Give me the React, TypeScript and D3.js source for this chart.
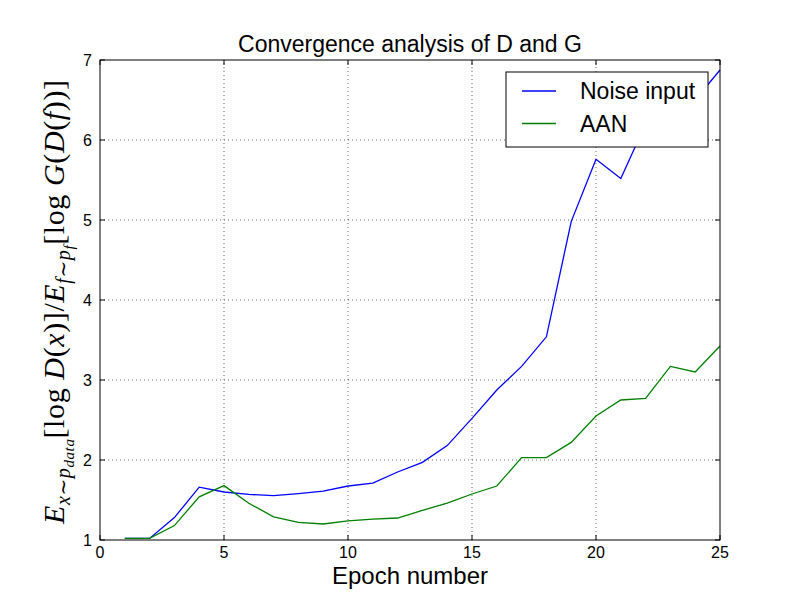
import * as d3 from 'd3';

const epochs = d3.range(1, 26);
const noiseInput = [
  1.02, 1.02, 1.28, 1.66, 1.6, 1.57, 1.555, 1.58, 1.61, 1.675, 1.71, 1.85, 1.97,
  2.18, 2.52, 2.875, 3.17, 3.54, 4.98, 5.76, 5.52, 6.2, 6.35, 6.5, 6.875,
];
const aan = [
  1.02, 1.02, 1.18, 1.54, 1.68, 1.46, 1.29, 1.22, 1.2, 1.24, 1.26, 1.275, 1.37,
  1.46, 1.575, 1.675, 2.03, 2.03, 2.22, 2.55, 2.75, 2.77, 3.17, 3.1, 3.425,
];
const xTicks = [0, 5, 10, 15, 20, 25];
const yTicks = [1, 2, 3, 4, 5, 6, 7];
const seriesNames = ['Noise input', 'AAN'];
const seriesColors = ['#0000ff', '#008000'];

const width = 800;
const height = 600;
const margin = { top: 60, right: 80, bottom: 60, left: 100 };
const sans = '"Liberation Sans", Arial, sans-serif';
const serif = '"Liberation Serif", "DejaVu Serif", serif';

export default function App() {
  const x = d3.scaleLinear().domain([0, 25]).range([margin.left, width - margin.right]);
  const y = d3.scaleLinear().domain([1, 7]).range([height - margin.bottom, margin.top]);
  const [x0, x1] = x.range();
  const [y0, y1] = y.range();

  const line = d3
    .line<number>()
    .x((_, i) => x(epochs[i]))
    .y((d) => y(d));

  const series = [noiseInput, aan];
  const tick = 5;

  return (
    <svg
      width={width}
      height={height}
      style={{ position: 'absolute', left: 0, top: 0, background: '#fff' }}
    >
      <rect x={0} y={0} width={width} height={height} fill="#fff" />

      {/* grid */}
      <g stroke="#000" strokeWidth={0.6} strokeDasharray="1,3">
        {xTicks.slice(1, -1).map((t) => (
          <line key={'gx' + t} x1={x(t)} x2={x(t)} y1={y0} y2={y1} />
        ))}
        {yTicks.slice(1, -1).map((t) => (
          <line key={'gy' + t} x1={x0} x2={x1} y1={y(t)} y2={y(t)} />
        ))}
      </g>

      {/* series */}
      {series.map((s, i) => (
        <path key={i} d={line(s) ?? ''} fill="none" stroke={seriesColors[i]} strokeWidth={1.3} />
      ))}

      {/* ticks, inward on all sides */}
      <g stroke="#000" strokeWidth={1}>
        {xTicks.map((t) => (
          <g key={'tx' + t}>
            <line x1={x(t)} x2={x(t)} y1={y0} y2={y0 - tick} />
            <line x1={x(t)} x2={x(t)} y1={y1} y2={y1 + tick} />
          </g>
        ))}
        {yTicks.map((t) => (
          <g key={'ty' + t}>
            <line x1={x0} x2={x0 + tick} y1={y(t)} y2={y(t)} />
            <line x1={x1} x2={x1 - tick} y1={y(t)} y2={y(t)} />
          </g>
        ))}
      </g>

      {/* tick labels */}
      <g fontFamily={sans} fontSize={16} fill="#000">
        {xTicks.map((t) => (
          <text key={'lx' + t} x={x(t)} y={y0 + 18} textAnchor="middle">
            {t}
          </text>
        ))}
        {yTicks.map((t) => (
          <text key={'ly' + t} x={x0 - 8} y={y(t) + 6} textAnchor="end">
            {t}
          </text>
        ))}
      </g>

      {/* legend */}
      <g>
        <rect x={506} y={72} width={202} height={75} fill="#fff" stroke="#000" strokeWidth={1} />
        {seriesNames.map((name, i) => (
          <g key={name}>
            <line
              x1={522}
              x2={556}
              y1={91 + i * 32.5}
              y2={91 + i * 32.5}
              stroke={seriesColors[i]}
              strokeWidth={1.3}
            />
            <text x={580} y={99 + i * 32.5} fontFamily={sans} fontSize={23} fill="#000">
              {name}
            </text>
          </g>
        ))}
      </g>

      {/* frame */}
      <rect x={x0} y={y1} width={x1 - x0} height={y0 - y1} fill="none" stroke="#000" strokeWidth={1} />

      {/* title */}
      <text x={(x0 + x1) / 2} y={52} textAnchor="middle" fontFamily={sans} fontSize={23} fill="#000">
        Convergence analysis of D and G
      </text>

      {/* x label */}
      <text x={(x0 + x1) / 2} y={584} textAnchor="middle" fontFamily={sans} fontSize={24} fill="#000">
        Epoch number
      </text>

      {/* y label */}
      <text
        transform={`translate(64,${(y0 + y1) / 2 + 2}) rotate(-90)`}
        textAnchor="middle"
        fontFamily={serif}
        fontSize={30}
        fill="#000"
        textLength={444}
        lengthAdjust="spacing"
      >
        <tspan fontStyle="italic">E</tspan>
        <tspan fontSize={20} dy={6} fontStyle="italic">{'x∼p'}</tspan>
        <tspan fontSize={15} dy={4} fontStyle="italic">data</tspan>
        <tspan dy={-10}>{'[log '}</tspan>
        <tspan fontStyle="italic">D</tspan>
        <tspan>(</tspan>
        <tspan fontStyle="italic">x</tspan>
        <tspan>{')]/'}</tspan>
        <tspan fontStyle="italic">E</tspan>
        <tspan fontSize={20} dy={6} fontStyle="italic">{'f∼p'}</tspan>
        <tspan fontSize={15} dy={4} fontStyle="italic">f</tspan>
        <tspan dy={-10}>{'[log '}</tspan>
        <tspan fontStyle="italic">G</tspan>
        <tspan>(</tspan>
        <tspan fontStyle="italic">D</tspan>
        <tspan>(</tspan>
        <tspan fontStyle="italic">f</tspan>
        <tspan>{'))]'}</tspan>
      </text>
    </svg>
  );
}
